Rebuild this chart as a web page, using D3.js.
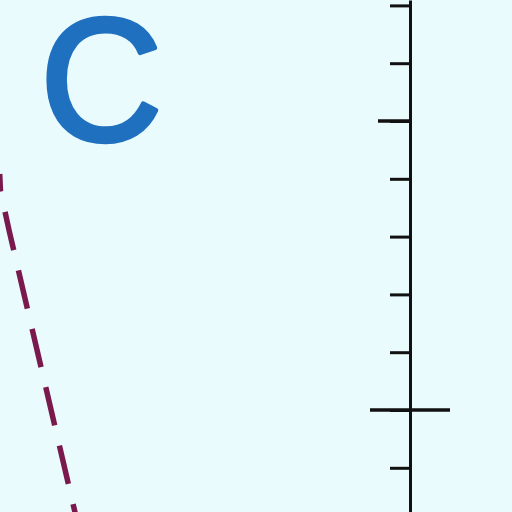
<!DOCTYPE html>
<html>
<head>
<meta charset="utf-8">
<script src="https://cdn.jsdelivr.net/npm/d3@7"></script>
<style>
  html, body { margin: 0; padding: 0; background: #e9fbfd; }
  svg { display: block; }
</style>
</head>
<body>
<svg width="512" height="512"></svg>
<script>
// axis ticks (one unit apart), the two long ones, and the dashed curve
const minorTicks = [-1, 0, 1, 2, 3, 4, 5, 6, 7];
const majorTicks = [0, 5];
const curveX = [-7.099, -7.085, -6.934, -5.742];
const curveY = [4.083, 3.79, 3.097, -2.0];
const panelLabel = "C";

const width = 512, height = 512;
const svg = d3.select("svg");

svg.append("rect")
    .attr("width", width)
    .attr("height", height)
    .attr("fill", "#e9fbfd");

// same pixels per unit on both axes, y=0 at 410px, x=0 at 410px
const pxPerUnit = 57.8;
const y = d3.scaleLinear()
    .domain([(410 - height) / pxPerUnit, 410 / pxPerUnit])
    .range([height, 0]);
const x = d3.scaleLinear()
    .domain([-410 / pxPerUnit, (width - 410) / pxPerUnit])
    .range([0, width]);

// vertical axis with short ticks
const yAxis = svg.append("g")
    .attr("transform", `translate(${x(0)},0)`)
    .call(d3.axisLeft(y).tickValues(minorTicks).tickSize(20).tickSizeOuter(0).tickFormat(""));
yAxis.select(".domain").attr("stroke", "#111").attr("stroke-width", 3);
yAxis.selectAll(".tick line").attr("stroke", "#111").attr("stroke-width", 3);

// longer ticks
majorTicks.forEach(v => {
    const left = v === 0 ? 40 : 32;
    const right = v === 0 ? 40 : 0;
    svg.append("line")
        .attr("x1", x(0) - left)
        .attr("x2", x(0) + right)
        .attr("y1", y(v))
        .attr("y2", y(v))
        .attr("stroke", "#111")
        .attr("stroke-width", 3.5);
});

// dashed curve
const pts = curveX.map((d, i) => [d, curveY[i]]);
svg.append("path")
    .datum(pts)
    .attr("d", d3.line().x(d => x(d[0])).y(d => y(d[1])))
    .attr("fill", "none")
    .attr("stroke", "#7a1a4c")
    .attr("stroke-width", 5.5)
    .attr("stroke-dasharray", "39.3,20.7")
    .attr("stroke-dashoffset", 21.6);

// panel letter (regular weight, thickened a little with a stroke)
svg.append("text")
    .attr("transform", "translate(40,140) scale(0.97,1)")
    .attr("font-family", "Liberation Sans, Arial, sans-serif")
    .attr("font-size", 175)
    .attr("fill", "#1f70be")
    .attr("stroke", "#1f70be")
    .attr("stroke-width", 4.5)
    .attr("stroke-linejoin", "round")
    .text(panelLabel);
</script>
</body>
</html>
